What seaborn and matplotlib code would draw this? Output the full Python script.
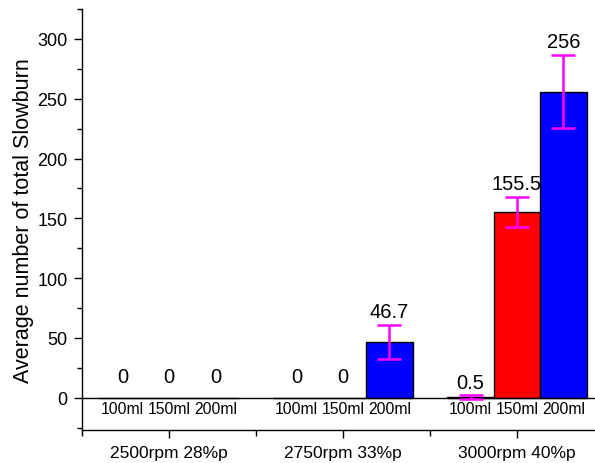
import matplotlib
matplotlib.use('Agg')
import matplotlib.pyplot as plt
import seaborn as sns
import pandas as pd
import numpy as np
from matplotlib.ticker import MultipleLocator, FixedLocator

sns.set_style('ticks', {'axes.edgecolor': 'black', 'text.color': 'black',
                        'axes.labelcolor': 'black', 'xtick.color': 'black',
                        'ytick.color': 'black'})
plt.rcParams['font.family'] = ['Liberation Sans', 'DejaVu Sans']

groups = ['2500rpm 28%p', '2750rpm 33%p', '3000rpm 40%p']
volumes = ['100ml', '150ml', '200ml']
means = {
    '100ml': [0, 0, 0.5],
    '150ml': [0, 0, 155.5],
    '200ml': [0, 46.7, 256],
}
errors = {
    '100ml': [0, 0, 1.5],
    '150ml': [0, 0, 12.6],
    '200ml': [0, 14.2, 30.6],
}
labels = {
    '100ml': ['0', '0', '0.5'],
    '150ml': ['0', '0', '155.5'],
    '200ml': ['0', '46.7', '256'],
}
colors = ['black', '#FF0000', '#0000FF']

rows = []
for v in volumes:
    for g, m in zip(groups, means[v]):
        rows.append({'group': g, 'volume': v, 'value': m})
df = pd.DataFrame(rows)

fig = plt.figure(figsize=(5.95, 4.64), dpi=100)
ax = fig.add_axes([82 / 595, 33 / 464, 522 / 595, 421 / 464])

sns.barplot(data=df, x='group', y='value', hue='volume', order=groups,
            hue_order=volumes, palette=colors, saturation=1,
            edgecolor='black', linewidth=1, errorbar=None, legend=False,
            ax=ax)

ax.axhline(0, color='black', lw=1, zorder=1)

# error bars, value labels and volume names under each bar
for cont, v in zip(ax.containers, volumes):
    for bar, m, e, lab in zip(cont.patches, means[v], errors[v], labels[v]):
        xc = bar.get_x() + bar.get_width() / 2
        if e > 0:
            ax.errorbar(xc, m, yerr=e, fmt='none', ecolor='#FF00FF',
                        elinewidth=1.8, capsize=8.5, capthick=1.8, zorder=4)
        ax.annotate(lab, (xc, m + e), xytext=(0, 2.5 if e > 0 else 8.5),
                    textcoords='offset points', ha='center', va='bottom',
                    fontsize=14.5)
        ax.annotate(v, (xc, 0), xytext=(0, -2.5), textcoords='offset points',
                    ha='center', va='top', fontsize=11.3)

ax.set_xlim(-0.5, 2.5)
ax.set_ylim(-27, 325)
ax.yaxis.set_minor_locator(MultipleLocator(25))
ax.set_yticks([0, 50, 100, 150, 200, 250, 300])
ax.xaxis.set_minor_locator(FixedLocator([-0.5, 0.5, 1.5, 2.5]))
ax.tick_params(axis='y', which='major', length=6, width=1, labelsize=13, pad=4.5)
ax.tick_params(axis='y', which='minor', length=3.5, width=1)
ax.tick_params(axis='x', which='major', length=6, width=1, labelsize=12.5, pad=5)
ax.tick_params(axis='x', which='minor', length=4, width=1)

ax.set_xlabel('')
ax.set_ylabel('Average number of total Slowburn', fontsize=15.5, labelpad=2)
sns.despine(ax=ax)
for s in ['left', 'bottom']:
    ax.spines[s].set_linewidth(1)

fig.savefig('out.png', dpi=100)
